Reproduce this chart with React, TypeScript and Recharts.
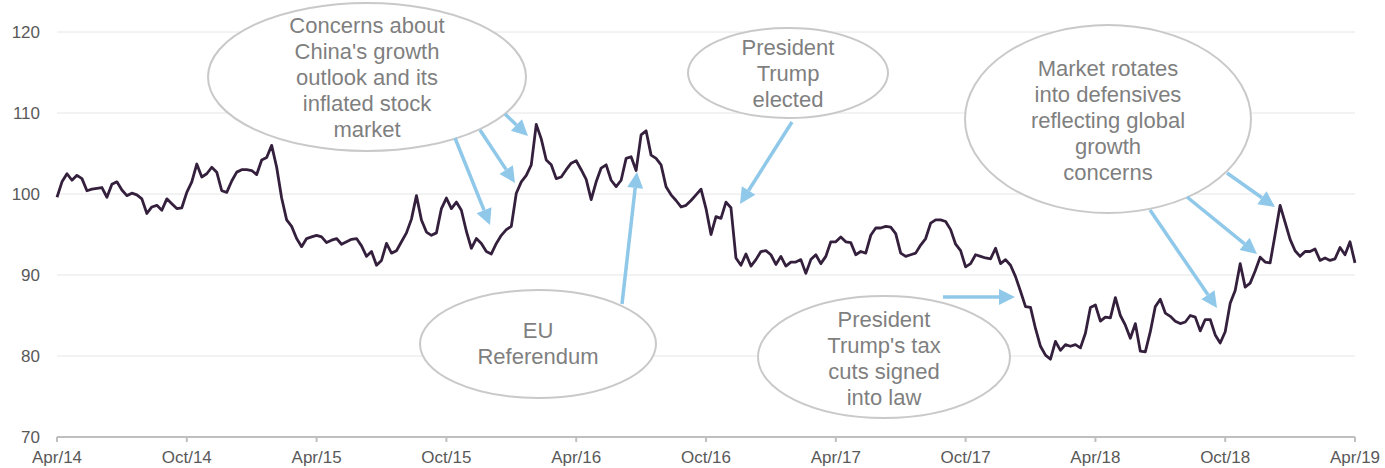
import React from 'react';
import { LineChart, Line, XAxis, YAxis, CartesianGrid, Customized } from 'recharts';

// weekly index level, Apr/14 -> Apr/19
const weeksApr14 = [
  99.6, 101.5, 102.5, 101.7, 102.3, 101.9, 100.4, 100.6, 100.7, 100.8, 99.6, 101.2, 101.5,
  100.5, 99.8, 100.1, 99.9, 99.4, 97.6, 98.4, 98.6, 98.0, 99.4, 98.8, 98.2, 98.3,
  100.2, 101.5, 103.7, 102.1, 102.5, 103.3, 102.7, 100.4, 100.2, 101.6, 102.7, 103.0, 103.0,
  102.9, 102.4, 104.2, 104.5, 106.0, 103.3, 99.5, 96.8, 96.0, 94.5, 93.5, 94.5, 94.7,
];
const weeksApr15 = [
  94.9, 94.7, 94.0, 94.3, 94.5, 93.8, 94.1, 94.4, 94.5, 93.6, 92.3, 92.9, 91.2,
  91.8, 93.9, 92.7, 93.0, 94.1, 95.2, 96.9, 99.8, 96.8, 95.3, 94.9, 95.2, 98.2,
  99.5, 98.2, 99.0, 98.0, 95.4, 93.3, 94.5, 93.9, 92.9, 92.6, 93.9, 94.9, 95.6,
  96.0, 100.1, 101.5, 102.3, 103.6, 108.6, 106.8, 104.2, 103.6, 101.9, 102.1, 103.0, 103.8,
];
const weeksApr16 = [
  104.1, 103.0, 101.8, 99.3, 101.5, 103.2, 103.6, 101.7, 100.9, 101.7, 104.4, 104.6, 102.9,
  107.3, 107.8, 104.8, 104.4, 103.6, 100.9, 99.9, 99.2, 98.4, 98.6, 99.2, 99.9, 100.6,
  98.2, 95.0, 97.2, 97.0, 99.0, 98.3, 92.1, 91.2, 92.6, 91.1, 91.9, 92.9, 93.0,
  92.5, 91.3, 92.3, 91.1, 91.6, 91.6, 91.9, 90.2, 91.9, 92.5, 91.4, 92.3, 94.1,
];
const weeksApr17 = [
  94.1, 94.7, 94.1, 94.0, 92.5, 92.9, 92.7, 94.9, 95.8, 95.8, 96.0, 95.9, 95.1,
  92.7, 92.3, 92.5, 92.7, 93.7, 94.5, 96.4, 96.8, 96.8, 96.6, 95.6, 93.8, 93.0,
  91.0, 91.4, 92.5, 92.3, 92.1, 92.0, 93.3, 91.4, 91.9, 91.2, 89.8, 88.0, 86.1,
  86.0, 83.4, 81.2, 80.1, 79.6, 81.8, 80.7, 81.4, 81.2, 81.4, 81.0, 82.8, 86.0,
];
const weeksApr18 = [
  86.3, 84.3, 84.8, 84.7, 87.2, 85.0, 83.8, 82.2, 84.0, 80.6, 80.5, 83.0, 86.1,
  87.0, 85.3, 84.9, 84.3, 84.0, 84.2, 85.0, 84.8, 83.1, 84.5, 84.5, 82.6, 81.6,
  83.0, 86.5, 88.1, 91.4, 88.5, 89.0, 90.5, 92.2, 91.6, 91.5, 95.0, 98.6, 96.5,
  94.4, 93.0, 92.3, 92.9, 92.9, 93.2, 91.8, 92.1, 91.8, 92.0, 93.4, 92.5, 94.1, 91.5,
];

const tickLabels = ['Apr/14', 'Oct/14', 'Apr/15', 'Oct/15', 'Apr/16', 'Oct/16', 'Apr/17', 'Oct/17', 'Apr/18', 'Oct/18', 'Apr/19'];
const yTicks = [70, 80, 90, 100, 110, 120];

const data = [...weeksApr14, ...weeksApr15, ...weeksApr16, ...weeksApr17, ...weeksApr18].map((value, week) => ({ week, value }));
const xTicks = tickLabels.map((_, i) => i * 26);

const bubbles = [
  { cx: 367, cy: 77, rx: 159, ry: 74, y0: 33, lines: ['Concerns about', "China's growth", 'outlook and its', 'inflated stock', 'market'] },
  { cx: 788, cy: 73, rx: 100, ry: 45, y0: 55, lines: ['President', 'Trump', 'elected'] },
  { cx: 1108, cy: 119, rx: 143, ry: 94, y0: 76, lines: ['Market rotates', 'into defensives', 'reflecting global', 'growth', 'concerns'] },
  { cx: 538, cy: 344, rx: 118, ry: 54, y0: 338, lines: ['EU', 'Referendum'] },
  { cx: 884, cy: 357, rx: 126, ry: 61, y0: 327, lines: ['President', "Trump's tax", 'cuts signed', 'into law'] },
];

const arrows = [
  [455, 138, 490, 225],
  [480, 130, 515, 183],
  [505, 114, 528, 136],
  [792, 122, 740, 204],
  [622, 304, 637, 172],
  [943, 297, 1015, 297],
  [1150, 210, 1217, 308],
  [1187, 197, 1257, 254],
  [1227, 173, 1275, 207],
];

const Annotations = () => (
  <g>
    {bubbles.map((b, i) => (
      <g key={`b-${i}`}>
        <ellipse cx={b.cx} cy={b.cy} rx={b.rx} ry={b.ry} fill="#ffffff" stroke="#c9c9c9" strokeWidth={2} />
        {b.lines.map((t, j) => (
          <text
            key={j}
            x={b.cx}
            y={b.y0 + j * 26}
            textAnchor="middle"
            fontSize={22}
            fill="#7f7f7f"
            fontFamily="Arial, 'Liberation Sans', sans-serif"
          >
            {t}
          </text>
        ))}
      </g>
    ))}
    {arrows.map(([x1, y1, x2, y2], i) => {
      const len = Math.hypot(x2 - x1, y2 - y1);
      const ux = (x2 - x1) / len;
      const uy = (y2 - y1) / len;
      const hl = 16;
      const hw = 8;
      const bx = x2 - ux * hl;
      const by = y2 - uy * hl;
      return (
        <g key={`a-${i}`}>
          <line x1={x1} y1={y1} x2={bx} y2={by} stroke="#8fc8e9" strokeWidth={3.5} />
          <polygon
            points={`${x2},${y2} ${bx - uy * hw},${by + ux * hw} ${bx + uy * hw},${by - ux * hw}`}
            fill="#8fc8e9"
          />
        </g>
      );
    })}
  </g>
);

export default function App() {
  return (
    <div style={{ position: 'absolute', left: 0, top: 0, width: 1385, height: 468, background: '#fff' }}>
      <LineChart width={1385} height={468} data={data} margin={{ top: 32, right: 30, left: 0, bottom: 0 }}>
        <CartesianGrid vertical={false} stroke="#e6e6e6" strokeWidth={1} />
        <XAxis
          dataKey="week"
          type="number"
          domain={[0, 260]}
          ticks={xTicks}
          tickFormatter={(v) => tickLabels[Math.round(v / 26)]}
          height={31}
          stroke="#bfbfbf"
          strokeWidth={2}
          tickSize={5}
          tickMargin={9}
          tick={{ fill: '#595959', fontSize: 17, fontFamily: "Arial, 'Liberation Sans', sans-serif" }}
          interval={0}
        />
        <YAxis
          domain={[70, 120]}
          ticks={yTicks}
          width={57}
          axisLine={false}
          tickLine={false}
          tickSize={6}
          tickMargin={11}
          tick={{ fill: '#595959', fontSize: 17, fontFamily: "Arial, 'Liberation Sans', sans-serif" }}
        />
        <Line
          type="linear"
          dataKey="value"
          stroke="#34203d"
          strokeWidth={2.8}
          strokeLinejoin="round"
          dot={false}
          isAnimationActive={false}
        />
        <Customized component={<Annotations />} />
      </LineChart>
    </div>
  );
}
